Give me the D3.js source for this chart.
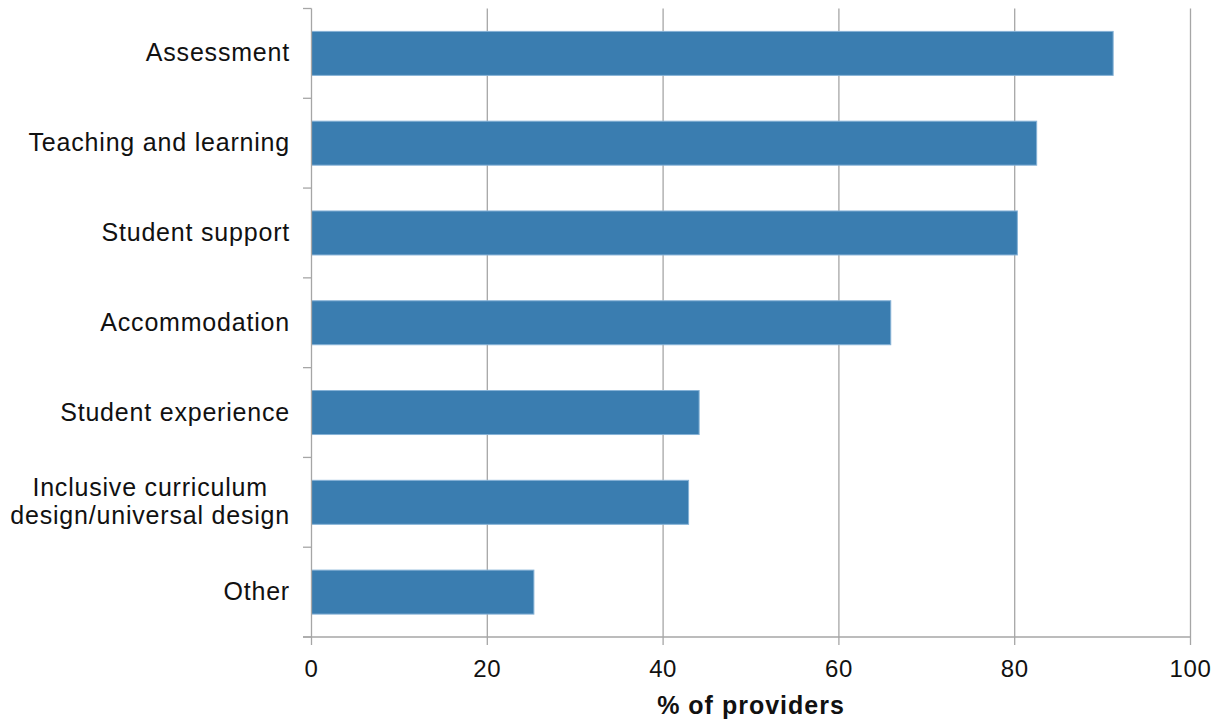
<!DOCTYPE html>
<html><head><meta charset="utf-8">
<script src="https://cdn.jsdelivr.net/npm/d3@7"></script>
<style>body{margin:0;background:#fff;} svg{display:block;}</style>
</head><body>
<svg id="c" width="1219" height="722"></svg>
<script>
const categories = ["Assessment","Teaching and learning","Student support","Accommodation","Student experience","Inclusive curriculum design/universal design","Other"];
const labelLines = [["Assessment"],["Teaching and learning"],["Student support"],["Accommodation"],["Student experience"],["Inclusive curriculum","design/universal design"],["Other"]];
const values = [91.2, 82.5, 80.3, 65.9, 44.1, 42.9, 25.3];
const xTicks = [0,20,40,60,80,100];
const xTitle = "% of providers";

const svg = d3.select("#c");
const L = 311.5, R = 1190.5, T = 8.5, B = 637;
const x = d3.scaleLinear().domain([0,100]).range([L,R]);
const y = d3.scaleBand().domain(categories).range([T,B]).paddingInner(0.51).paddingOuter(0.255);
const grid = "#a6a6a6";
const font = "'Liberation Sans', Arial, sans-serif";

// gridlines
svg.append("g").selectAll("line").data(xTicks.slice(1)).join("line")
  .attr("x1", d=>x(d)).attr("x2", d=>x(d)).attr("y1", T).attr("y2", B)
  .attr("stroke", grid).attr("stroke-width", 1.3);

// bars
svg.append("g").selectAll("rect").data(values).join("rect")
  .attr("x", x(0)).attr("y", (d,i)=>y(categories[i]))
  .attr("width", d=>x(d)-x(0)).attr("height", y.bandwidth())
  .attr("fill", "#3a7db0").attr("stroke", "#86b2d6").attr("stroke-width", 1);

// y axis line and ticks at band boundaries
const step = (B-T)/categories.length;
const bounds = d3.range(categories.length+1).map(i=>T+i*step);
svg.append("line").attr("x1",L).attr("x2",L).attr("y1",T).attr("y2",B).attr("stroke",grid).attr("stroke-width",1.3);
svg.append("g").selectAll("line").data(bounds).join("line")
  .attr("x1", L-8.5).attr("x2", L).attr("y1", d=>d).attr("y2", d=>d)
  .attr("stroke", grid).attr("stroke-width", 1.3);

// x axis
svg.append("line").attr("x1",L-8.5).attr("x2",R).attr("y1",B).attr("y2",B).attr("stroke",grid).attr("stroke-width",1.3);
svg.append("g").selectAll("line").data(xTicks).join("line")
  .attr("x1", d=>x(d)).attr("x2", d=>x(d)).attr("y1", B).attr("y2", B+8)
  .attr("stroke", grid).attr("stroke-width", 1.3);
svg.append("g").selectAll("text").data(xTicks).join("text")
  .attr("x", d=>x(d)).attr("y", 677).attr("text-anchor","middle")
  .attr("font-family", font).attr("font-size", 24).attr("letter-spacing", 0.6).attr("fill","#111").text(d=>d);

// category labels (multi-line labels centred on their widest line, right edge at 290)
const lab = svg.append("g");
categories.forEach((c,i)=>{
  const lines = labelLines[i];
  const cy = y(c) + y.bandwidth()/2;
  const lh = 28;
  const g = lab.append("g");
  const texts = lines.map((t,j)=> g.append("text")
      .attr("y", cy + (j - (lines.length-1)/2)*lh + 8)
      .attr("font-family", font).attr("font-size", 25)
      .attr("letter-spacing", 0.8).attr("fill","#111").text(t));
  if (lines.length === 1) {
    texts[0].attr("x", 290).attr("text-anchor","end");
  } else {
    const w = d3.max(texts, t=>t.node().getComputedTextLength());
    texts.forEach(t=>t.attr("x", 290 - w/2).attr("text-anchor","middle"));
  }
});

// axis title
svg.append("text").attr("x", (L+R)/2).attr("y", 714).attr("text-anchor","middle")
  .attr("font-family", font).attr("font-size", 25).attr("font-weight","bold").attr("letter-spacing", 1)
  .attr("fill","#111").text(xTitle);
</script>
</body></html>
